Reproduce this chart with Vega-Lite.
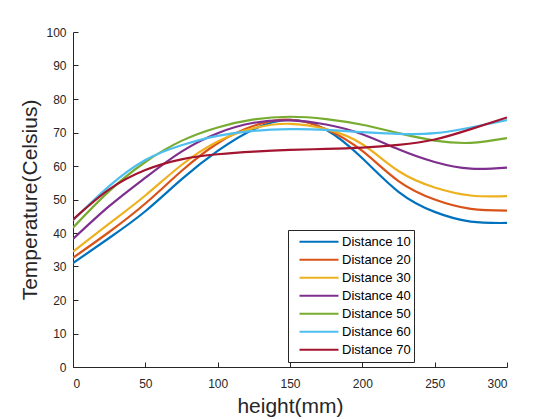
{
  "$schema": "https://vega.github.io/schema/vega-lite/v6.json",
  "width": 434,
  "height": 335,
  "autosize": {"type": "none"},
  "padding": {"left": 73, "top": 32, "right": 53, "bottom": 53},
  "background": "white",
  "data": {
    "values": [
      {"h": 0, "t": 31.0, "s": "Distance 10"}, {"h": 25, "t": 38.5, "s": "Distance 10"}, {"h": 50, "t": 46.5, "s": "Distance 10"}, {"h": 75, "t": 56.0, "s": "Distance 10"}, {"h": 100, "t": 64.5, "s": "Distance 10"}, {"h": 125, "t": 71.0, "s": "Distance 10"}, {"h": 150, "t": 73.8, "s": "Distance 10"}, {"h": 175, "t": 70.8, "s": "Distance 10"}, {"h": 200, "t": 62.3, "s": "Distance 10"}, {"h": 225, "t": 52.3, "s": "Distance 10"}, {"h": 250, "t": 46.3, "s": "Distance 10"}, {"h": 275, "t": 43.4, "s": "Distance 10"}, {"h": 300, "t": 43.0, "s": "Distance 10"},
      {"h": 0, "t": 32.6, "s": "Distance 20"}, {"h": 25, "t": 40.3, "s": "Distance 20"}, {"h": 50, "t": 48.8, "s": "Distance 20"}, {"h": 75, "t": 58.5, "s": "Distance 20"}, {"h": 100, "t": 66.8, "s": "Distance 20"}, {"h": 125, "t": 72.0, "s": "Distance 20"}, {"h": 150, "t": 73.8, "s": "Distance 20"}, {"h": 175, "t": 71.0, "s": "Distance 20"}, {"h": 200, "t": 64.5, "s": "Distance 20"}, {"h": 225, "t": 55.5, "s": "Distance 20"}, {"h": 250, "t": 50.0, "s": "Distance 20"}, {"h": 275, "t": 47.2, "s": "Distance 20"}, {"h": 300, "t": 46.7, "s": "Distance 20"},
      {"h": 0, "t": 34.4, "s": "Distance 30"}, {"h": 25, "t": 42.8, "s": "Distance 30"}, {"h": 50, "t": 51.2, "s": "Distance 30"}, {"h": 75, "t": 60.3, "s": "Distance 30"}, {"h": 100, "t": 67.3, "s": "Distance 30"}, {"h": 125, "t": 71.3, "s": "Distance 30"}, {"h": 150, "t": 72.6, "s": "Distance 30"}, {"h": 175, "t": 71.0, "s": "Distance 30"}, {"h": 200, "t": 66.5, "s": "Distance 30"}, {"h": 225, "t": 58.5, "s": "Distance 30"}, {"h": 250, "t": 53.6, "s": "Distance 30"}, {"h": 275, "t": 51.2, "s": "Distance 30"}, {"h": 300, "t": 51.0, "s": "Distance 30"},
      {"h": 0, "t": 38.2, "s": "Distance 40"}, {"h": 25, "t": 48.0, "s": "Distance 40"}, {"h": 50, "t": 56.5, "s": "Distance 40"}, {"h": 75, "t": 64.3, "s": "Distance 40"}, {"h": 100, "t": 69.8, "s": "Distance 40"}, {"h": 125, "t": 72.9, "s": "Distance 40"}, {"h": 150, "t": 73.6, "s": "Distance 40"}, {"h": 175, "t": 72.4, "s": "Distance 40"}, {"h": 200, "t": 69.5, "s": "Distance 40"}, {"h": 225, "t": 65.0, "s": "Distance 40"}, {"h": 250, "t": 61.2, "s": "Distance 40"}, {"h": 275, "t": 59.2, "s": "Distance 40"}, {"h": 300, "t": 59.5, "s": "Distance 40"},
      {"h": 0, "t": 41.6, "s": "Distance 50"}, {"h": 25, "t": 52.5, "s": "Distance 50"}, {"h": 50, "t": 61.2, "s": "Distance 50"}, {"h": 75, "t": 67.5, "s": "Distance 50"}, {"h": 100, "t": 71.5, "s": "Distance 50"}, {"h": 125, "t": 73.9, "s": "Distance 50"}, {"h": 150, "t": 74.7, "s": "Distance 50"}, {"h": 175, "t": 74.0, "s": "Distance 50"}, {"h": 200, "t": 72.3, "s": "Distance 50"}, {"h": 225, "t": 69.8, "s": "Distance 50"}, {"h": 250, "t": 67.6, "s": "Distance 50"}, {"h": 275, "t": 66.9, "s": "Distance 50"}, {"h": 300, "t": 68.3, "s": "Distance 50"},
      {"h": 0, "t": 43.8, "s": "Distance 60"}, {"h": 25, "t": 54.0, "s": "Distance 60"}, {"h": 50, "t": 61.8, "s": "Distance 60"}, {"h": 75, "t": 66.2, "s": "Distance 60"}, {"h": 100, "t": 69.0, "s": "Distance 60"}, {"h": 125, "t": 70.5, "s": "Distance 60"}, {"h": 150, "t": 71.0, "s": "Distance 60"}, {"h": 175, "t": 70.8, "s": "Distance 60"}, {"h": 200, "t": 70.1, "s": "Distance 60"}, {"h": 225, "t": 69.6, "s": "Distance 60"}, {"h": 250, "t": 69.8, "s": "Distance 60"}, {"h": 275, "t": 71.5, "s": "Distance 60"}, {"h": 300, "t": 73.7, "s": "Distance 60"},
      {"h": 0, "t": 44.0, "s": "Distance 70"}, {"h": 25, "t": 53.0, "s": "Distance 70"}, {"h": 50, "t": 58.8, "s": "Distance 70"}, {"h": 75, "t": 62.0, "s": "Distance 70"}, {"h": 100, "t": 63.5, "s": "Distance 70"}, {"h": 125, "t": 64.3, "s": "Distance 70"}, {"h": 150, "t": 64.8, "s": "Distance 70"}, {"h": 175, "t": 65.1, "s": "Distance 70"}, {"h": 200, "t": 65.5, "s": "Distance 70"}, {"h": 225, "t": 66.3, "s": "Distance 70"}, {"h": 250, "t": 67.9, "s": "Distance 70"}, {"h": 275, "t": 71.0, "s": "Distance 70"}, {"h": 300, "t": 74.5, "s": "Distance 70"}
    ]
  },
  "mark": {"type": "line", "interpolate": "natural", "strokeWidth": 2.2, "clip": true},
  "encoding": {
    "x": {
      "field": "h", "type": "quantitative",
      "scale": {"domain": [0, 300], "nice": false, "zero": false},
      "axis": {"title": "height(mm)", "values": [0, 50, 100, 150, 200, 250, 300], "labelPadding": 16, "titlePadding": 6}
    },
    "y": {
      "field": "t", "type": "quantitative",
      "scale": {"domain": [0, 100], "nice": false},
      "axis": {"title": "Temperature(Celsius)", "values": [0, 10, 20, 30, 40, 50, 60, 70, 80, 90, 100], "labelPadding": 12, "titlePadding": 5}
    },
    "color": {
      "field": "s", "type": "nominal",
      "scale": {
        "domain": ["Distance 10", "Distance 20", "Distance 30", "Distance 40", "Distance 50", "Distance 60", "Distance 70"],
        "range": ["#0072BD", "#D95319", "#EDB120", "#7E2F8E", "#77AC30", "#4DBEEE", "#A2142F"]
      },
      "legend": {
        "title": null,
        "orient": "none",
        "legendX": 215,
        "legendY": 198,
        "symbolType": "stroke",
        "symbolSize": 1521,
        "symbolStrokeWidth": 2.2,
        "symbolOffset": 7,
        "clipHeight": 17.5,
        "rowPadding": 0,
        "labelOffset": 2,
        "labelFont": "Liberation Sans",
        "labelFontSize": 13,
        "labelColor": "black",
        "padding": 3,
        "strokeColor": "#262626",
        "fillColor": "white",
        "cornerRadius": 0
      }
    }
  },
  "config": {
    "view": {"stroke": null},
    "axis": {
      "grid": false,
      "domainColor": "#262626",
      "domainWidth": 1,
      "tickColor": "#262626",
      "tickSize": -5,
      "tickWidth": 1,
      "labelColor": "#262626",
      "labelFont": "Liberation Sans",
      "labelFontSize": 12,
      "titleColor": "#262626",
      "titleFont": "Liberation Sans",
      "titleFontSize": 21,
      "titleFontWeight": "normal"
    }
  }
}
